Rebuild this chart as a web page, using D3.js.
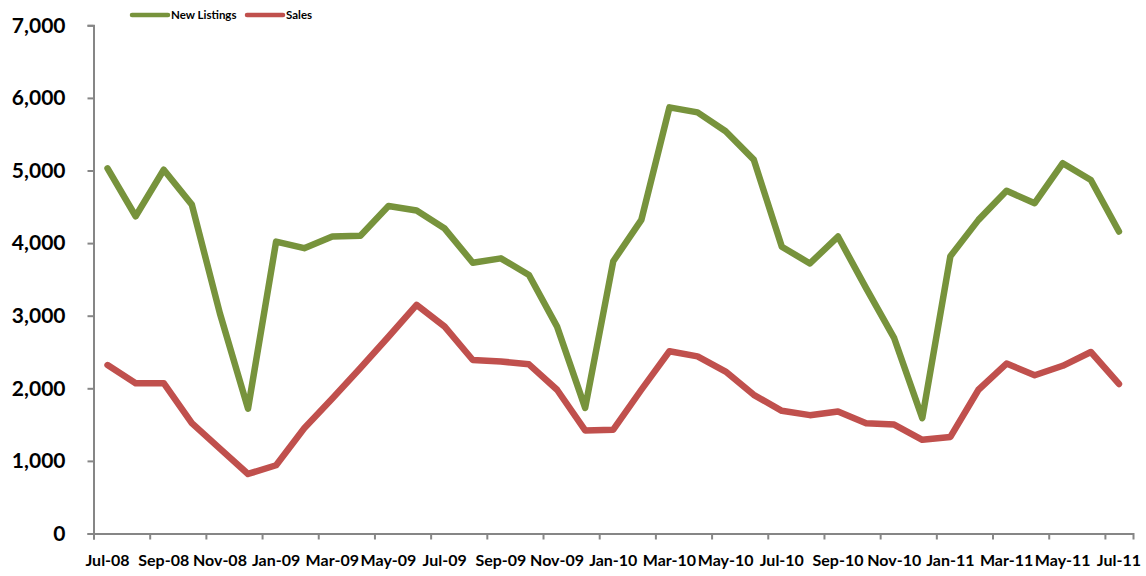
<!DOCTYPE html>
<html>
<head>
<meta charset="utf-8">
<script src="https://cdn.jsdelivr.net/npm/d3@7"></script>
<style>
  body { margin: 0; background: #fff; }
  text { font-family: Lato, "Liberation Sans", Arial, sans-serif; font-weight: bold; fill: #000; }
</style>
</head>
<body>
<svg id="chart"></svg>
<script>
const months = ["Jul-08","Aug-08","Sep-08","Oct-08","Nov-08","Dec-08",
  "Jan-09","Feb-09","Mar-09","Apr-09","May-09","Jun-09","Jul-09","Aug-09","Sep-09","Oct-09","Nov-09","Dec-09",
  "Jan-10","Feb-10","Mar-10","Apr-10","May-10","Jun-10","Jul-10","Aug-10","Sep-10","Oct-10","Nov-10","Dec-10",
  "Jan-11","Feb-11","Mar-11","Apr-11","May-11","Jun-11","Jul-11"];

const newListings = [5030,4370,5010,4530,3030,1720,
  4020,3930,4090,4100,4510,4450,4200,3730,3790,3560,2850,1730,
  3750,4320,5870,5800,5540,5150,3950,3720,4090,3380,2690,1590,
  3820,4320,4720,4550,5100,4870,4160];

const sales = [2320,2070,2070,1520,1170,820,
  940,1450,1860,2280,2710,3150,2850,2390,2370,2330,1980,1420,
  1430,1980,2510,2440,2230,1910,1690,1630,1680,1520,1500,1290,
  1330,1980,2340,2180,2310,2500,2060];

const yTicks = [0,1000,2000,3000,4000,5000,6000,7000];

const series = [
  { name: "New Listings", values: newListings, color: "#77933C" },
  { name: "Sales", values: sales, color: "#C0504D" }
];

const width = 1146, height = 576;
const svg = d3.select("#chart").attr("width", width).attr("height", height);

const x = d3.scaleBand().domain(months).range([93.5, 1133]).padding(0);
const xi = d3.scaleLinear().domain([0, months.length]).range([93.5, 1133]);
const y = d3.scaleLinear().domain([0, 7000]).range([533.5, 25.3]);

// y axis
const yAxis = svg.append("g")
  .attr("transform", "translate(93.5,0)")
  .call(d3.axisLeft(y).tickValues(yTicks).tickSize(6).tickPadding(22).tickFormat(d3.format(",")));
yAxis.selectAll("text").style("font-size", "21px");

// x axis: tick marks every two months on band edges
const xTicks = svg.append("g")
  .attr("transform", "translate(0,533.5)")
  .call(d3.axisBottom(xi).tickValues(d3.range(0, months.length, 2)).tickSize(6).tickFormat(""));

// x labels centred on every other month
const xLabels = svg.append("g")
  .attr("transform", "translate(0,533.5)")
  .call(d3.axisBottom(x).tickValues(months.filter((d, i) => i % 2 === 0)).tickSize(0).tickPadding(21));
xLabels.select(".domain").remove();
xLabels.selectAll("text").style("font-size", "16px");

svg.selectAll(".domain, .tick line").attr("stroke", "#868686").attr("stroke-width", 2);

// lines
const line = d3.line()
  .x((d, i) => x(months[i]) + x.bandwidth() / 2)
  .y(d => y(d));

svg.selectAll("path.series")
  .data(series)
  .join("path")
  .attr("class", "series")
  .attr("fill", "none")
  .attr("stroke", d => d.color)
  .attr("stroke-width", 6.5)
  .attr("stroke-linejoin", "round")
  .attr("stroke-linecap", "round")
  .attr("d", d => line(d.values));

// legend
const legendX = [132, 247];
const legend = svg.selectAll("g.legend")
  .data(series)
  .join("g")
  .attr("class", "legend")
  .attr("transform", (d, i) => `translate(${legendX[i]},15)`);
legend.append("line")
  .attr("x1", 0).attr("x2", 36)
  .attr("stroke", d => d.color)
  .attr("stroke-width", 4.5)
  .attr("stroke-linecap", "round");
legend.append("text")
  .attr("x", 39)
  .attr("dy", "0.35em")
  .style("font-size", "11.5px")
  .text(d => d.name);
</script>
</body>
</html>
